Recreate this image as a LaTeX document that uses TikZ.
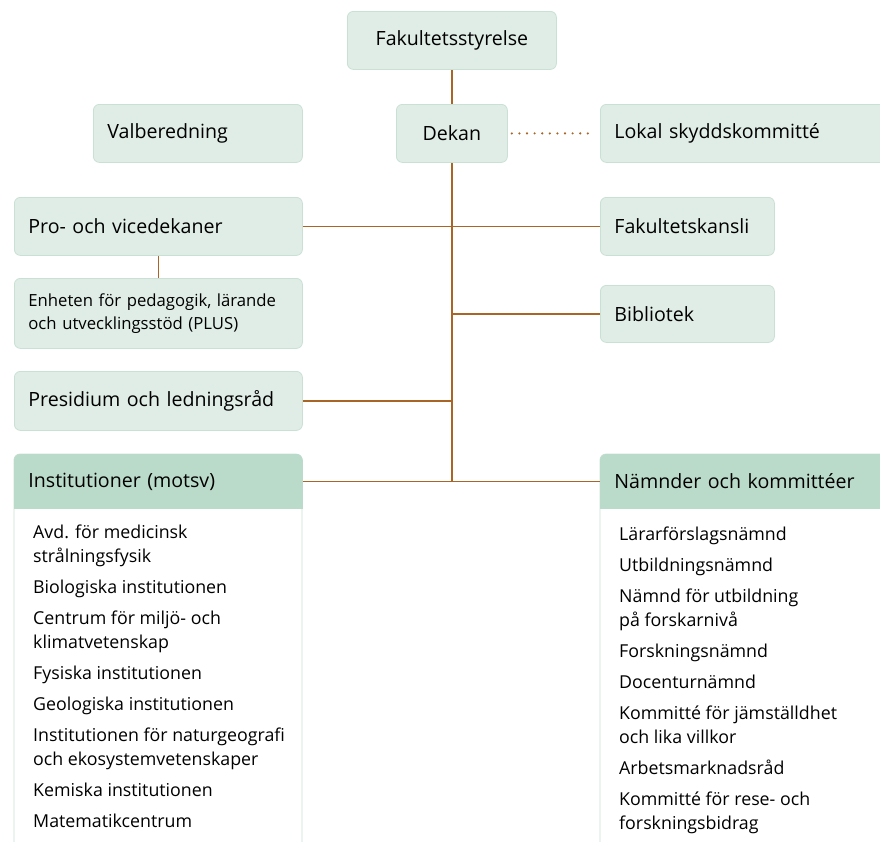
\documentclass[tikz,border=0pt]{standalone}
\usepackage{fontspec}
\setmainfont{Open Sans}
\usetikzlibrary{positioning,backgrounds}
\definecolor{boxfill}{HTML}{DFEDE6}
\definecolor{boxline}{HTML}{C9E0D4}
\definecolor{headfill}{HTML}{BBDBCA}
\definecolor{linkcol}{HTML}{A86526}
\tikzset{
  unit/.style={draw=boxline, fill=boxfill, rounded corners=6pt, line width=0.8pt,
    minimum height=58pt, inner xsep=14pt, inner ysep=0pt, align=left,
    anchor=north west, font=\fontsize{19.6}{23}\selectfont},
  head/.style={unit, fill=headfill, draw=headfill, minimum height=54pt},
  listtext/.style={anchor=north west, inner sep=0pt, align=left,
    font=\fontsize{17.8}{24}\selectfont},
  listbox/.style={draw=boxline, fill=white, line width=0.8pt, rounded corners=6pt},
  link/.style={draw=linkcol, line width=1.3pt},
  dots/.style={link, line width=2.4pt, line cap=round, dash pattern=on 0pt off 7.6pt}
}
\begin{document}
\begin{tikzpicture}[x=1pt,y=-1pt]
  \useasboundingbox[clip] (0,0) rectangle (880,841);
  % top of the tree
  \node[unit, align=center, minimum width=209pt] (styrelse) at (347,11) {Fakultetsstyrelse};
  \node[unit, align=center, minimum width=111pt] (dekan) at (396,104) {Dekan};
  \node[unit, text width=181pt] (valberedning) at (93,104) {Valberedning};
  \node[unit, text width=272pt] (skydd) at (600,104) {Lokal skyddskommitté};
  % left column
  \node[unit, text width=260pt] (prodekan) at (14,197) {Pro- och vicedekaner};
  \node[unit, text width=260pt, minimum height=70pt,
    font=\fontsize{16.7}{23}\selectfont] (plus) at (14,278)
    {Enheten för pedagogik, lärande\\och utvecklingsstöd (PLUS)};
  \node[unit, text width=260pt, minimum height=59pt] (presidium) at (14,371) {Presidium och ledningsråd};
  % right column
  \node[unit, text width=146pt] (kansli) at (600,197) {Fakultetskansli};
  \node[unit, text width=146pt, minimum height=57pt] (bibliotek) at (600,285) {Bibliotek};
  % lists
  \node[head, text width=260pt] (inst) at (14,454) {Institutioner (motsv)};
  \node[head, text width=272pt] (namnder) at (600,454) {Nämnder och kommittéer};
  \begin{scope}[on background layer]
    \draw[listbox] (14,454) rectangle (302,900);
    \draw[listbox] (600,454) rectangle (900,900);
    \fill[headfill] (inst.west) rectangle (inst.south east);
    \fill[headfill] (namnder.west) rectangle (namnder.south east);
  \end{scope}
  \node[listtext] (instlist) at (33,525) {Avd. för medicinsk\\strålningsfysik\\[7pt]
    Biologiska institutionen\\[7pt]
    Centrum för miljö- och\\klimatvetenskap\\[7pt]
    Fysiska institutionen\\[7pt]
    Geologiska institutionen\\[7pt]
    Institutionen för naturgeografi\\och ekosystemvetenskaper\\[7pt]
    Kemiska institutionen\\[7pt]
    Matematikcentrum};
  \node[listtext] (namndlist) at (619,527) {Lärarförslagsnämnd\\[7pt]
    Utbildningsnämnd\\[7pt]
    Nämnd för utbildning\\på forskarnivå\\[7pt]
    Forskningsnämnd\\[7pt]
    Docenturnämnd\\[7pt]
    Kommitté för jämställdhet\\och lika villkor\\[7pt]
    Arbetsmarknadsråd\\[7pt]
    Kommitté för rese- och\\forskningsbidrag};
  % connectors
  \coordinate (hub) at (dekan.south |- inst.east);
  \draw[link] (styrelse) -- (dekan);
  \draw[link] (dekan) -- (hub);
  \draw[dots] ([xshift=4pt]dekan.east) -- ([xshift=-5pt]skydd.west);
  \draw[link] (prodekan) -- (kansli);
  \draw[link] (prodekan) -- (plus);
  \draw[link] (bibliotek) -- (bibliotek -| dekan);
  \draw[link] (presidium) -- (presidium -| dekan);
  \draw[link] (inst) -- (namnder);
\end{tikzpicture}
\end{document}
